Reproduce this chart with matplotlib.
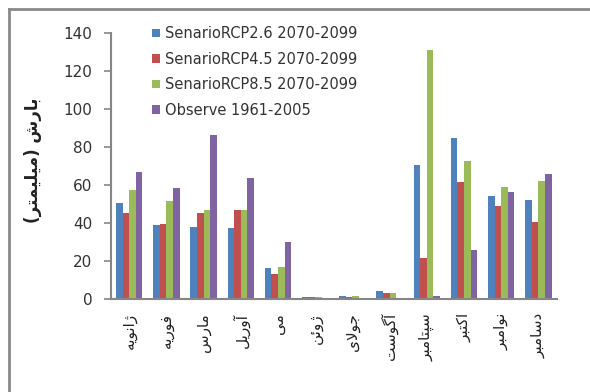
import numpy as np
import matplotlib.pyplot as plt
from matplotlib.lines import Line2D

plt.rcParams['font.family'] = ['DejaVu Sans']

# monthly precipitation (mm)
months = ['ژانویه', 'فوریه', 'مارس', 'آوریل', 'می', 'ژوئن',
          'جولای', 'آگوست', 'سپتامبر', 'اکتبر', 'نوامبر', 'دسامبر']
rcp26 = [50.3, 38.8, 37.9, 37.4, 16.5, 1.0, 1.8, 4.4, 70.5, 84.9, 54.4, 52.1]
rcp45 = [45.4, 39.5, 45.4, 46.8, 13.0, 1.0, 1.3, 3.0, 21.7, 61.7, 49.0, 40.4]
rcp85 = [57.5, 51.6, 46.7, 46.8, 17.0, 1.0, 1.8, 3.0, 131.3, 72.5, 59.1, 62.3]
observe = [67.0, 58.3, 86.5, 63.8, 30.0, 0.5, 0.3, 0.3, 1.6, 25.8, 56.1, 65.9]

series = [
    ('SenarioRCP2.6 2070-2099', rcp26, '#4F81BD'),
    ('SenarioRCP4.5 2070-2099', rcp45, '#C0504D'),
    ('SenarioRCP8.5 2070-2099', rcp85, '#9BBB59'),
    ('Observe 1961-2005', observe, '#8064A2'),
]
ylabel = 'بارش (میلیمتر)'

# matplotlib has no arabic shaping, so pick presentation forms by hand
# (isolated, final, initial, medial); right-joining letters have only two
FORMS = {
    'ا': (0xFE8D, 0xFE8E), 'آ': (0xFE81, 0xFE82), 'د': (0xFEA9, 0xFEAA),
    'ر': (0xFEAD, 0xFEAE), 'ژ': (0xFB8A, 0xFB8B), 'و': (0xFEED, 0xFEEE),
    'ب': (0xFE8F, 0xFE90, 0xFE91, 0xFE92), 'پ': (0xFB56, 0xFB57, 0xFB58, 0xFB59),
    'ت': (0xFE95, 0xFE96, 0xFE97, 0xFE98), 'ج': (0xFE9D, 0xFE9E, 0xFE9F, 0xFEA0),
    'س': (0xFEB1, 0xFEB2, 0xFEB3, 0xFEB4), 'ش': (0xFEB5, 0xFEB6, 0xFEB7, 0xFEB8),
    'ف': (0xFED1, 0xFED2, 0xFED3, 0xFED4), 'ک': (0xFB8E, 0xFB8F, 0xFB90, 0xFB91),
    'گ': (0xFB92, 0xFB93, 0xFB94, 0xFB95), 'ل': (0xFEDD, 0xFEDE, 0xFEDF, 0xFEE0),
    'م': (0xFEE1, 0xFEE2, 0xFEE3, 0xFEE4), 'ن': (0xFEE5, 0xFEE6, 0xFEE7, 0xFEE8),
    'ه': (0xFEE9, 0xFEEA, 0xFEEB, 0xFEEC), 'ی': (0xFBFC, 0xFBFD, 0xFBFE, 0xFBFF),
    'ئ': (0xFE89, 0xFE8A, 0xFE8B, 0xFE8C),
}
LAM_ALEF = {'ا': (0xFEFB, 0xFEFC), 'آ': (0xFEF5, 0xFEF6)}


def shape(text):
    res = []
    prev = None
    i = 0
    while i < len(text):
        c = text[i]
        joined = prev in FORMS and len(FORMS[prev]) == 4
        if c == 'ل' and i + 1 < len(text) and text[i + 1] in LAM_ALEF:
            iso, fin = LAM_ALEF[text[i + 1]]
            res.append(chr(fin if joined else iso))
            prev = text[i + 1]
            i += 2
            continue
        if c in FORMS:
            f = FORMS[c]
            nxt = text[i + 1] if i + 1 < len(text) else None
            to_next = len(f) == 4 and nxt in FORMS
            if joined and to_next:
                g = f[3]
            elif joined:
                g = f[1]
            elif to_next:
                g = f[2]
            else:
                g = f[0]
            res.append(chr(g))
        else:
            res.append(c)
        prev = c
        i += 1
    mirror = {'(': ')', ')': '('}
    return ''.join(mirror.get(c, c) for c in reversed(res))


fig = plt.figure(figsize=(5.9, 3.92), dpi=100)
ax = fig.add_axes([0.1875, 0.2372, 0.7565, 0.6786])

x = np.arange(len(months))
w = 0.178
for i, (name, vals, col) in enumerate(series):
    ax.bar(x + (i - 1.5) * w, vals, w, color=col, label=name)

ax.set_xlim(-0.5, len(months) - 0.5)
ax.set_ylim(0, 140)
ax.set_yticks(range(0, 141, 20))
ax.set_xticks(x)
ax.set_xticklabels([shape(m) for m in months], rotation=90, fontsize=11)
ax.tick_params(axis='x', length=0, pad=10, colors='#222222')
ax.tick_params(axis='y', length=5, width=1.2, pad=8, labelsize=11,
               color='#868686', labelcolor='#333333')

for s in ['top', 'right']:
    ax.spines[s].set_visible(False)
for s in ['left', 'bottom']:
    ax.spines[s].set_color('#868686')
    ax.spines[s].set_linewidth(1.5)

fig.text(0.056, 0.59, shape(ylabel), rotation=90, ha='center', va='center',
         fontsize=12, fontweight='bold', color='#222222')

ax.legend(loc='upper left', bbox_to_anchor=(0.245, 0.952),
          bbox_transform=fig.transFigure, frameon=False, fontsize=10.5,
          handlelength=0.55, handleheight=0.55, handletextpad=0.35,
          labelspacing=0.72, labelcolor='#333333', borderpad=0)

# outer chart frame, only top and left edges fall inside the image
fx, fy = 0.016, 0.977
fig.add_artist(Line2D([fx, 1.0], [fy, fy], transform=fig.transFigure,
                      color='#8a8a8a', linewidth=2))
fig.add_artist(Line2D([fx, fx], [0.0, fy], transform=fig.transFigure,
                      color='#8a8a8a', linewidth=2))

fig.savefig('out.png', dpi=100)
